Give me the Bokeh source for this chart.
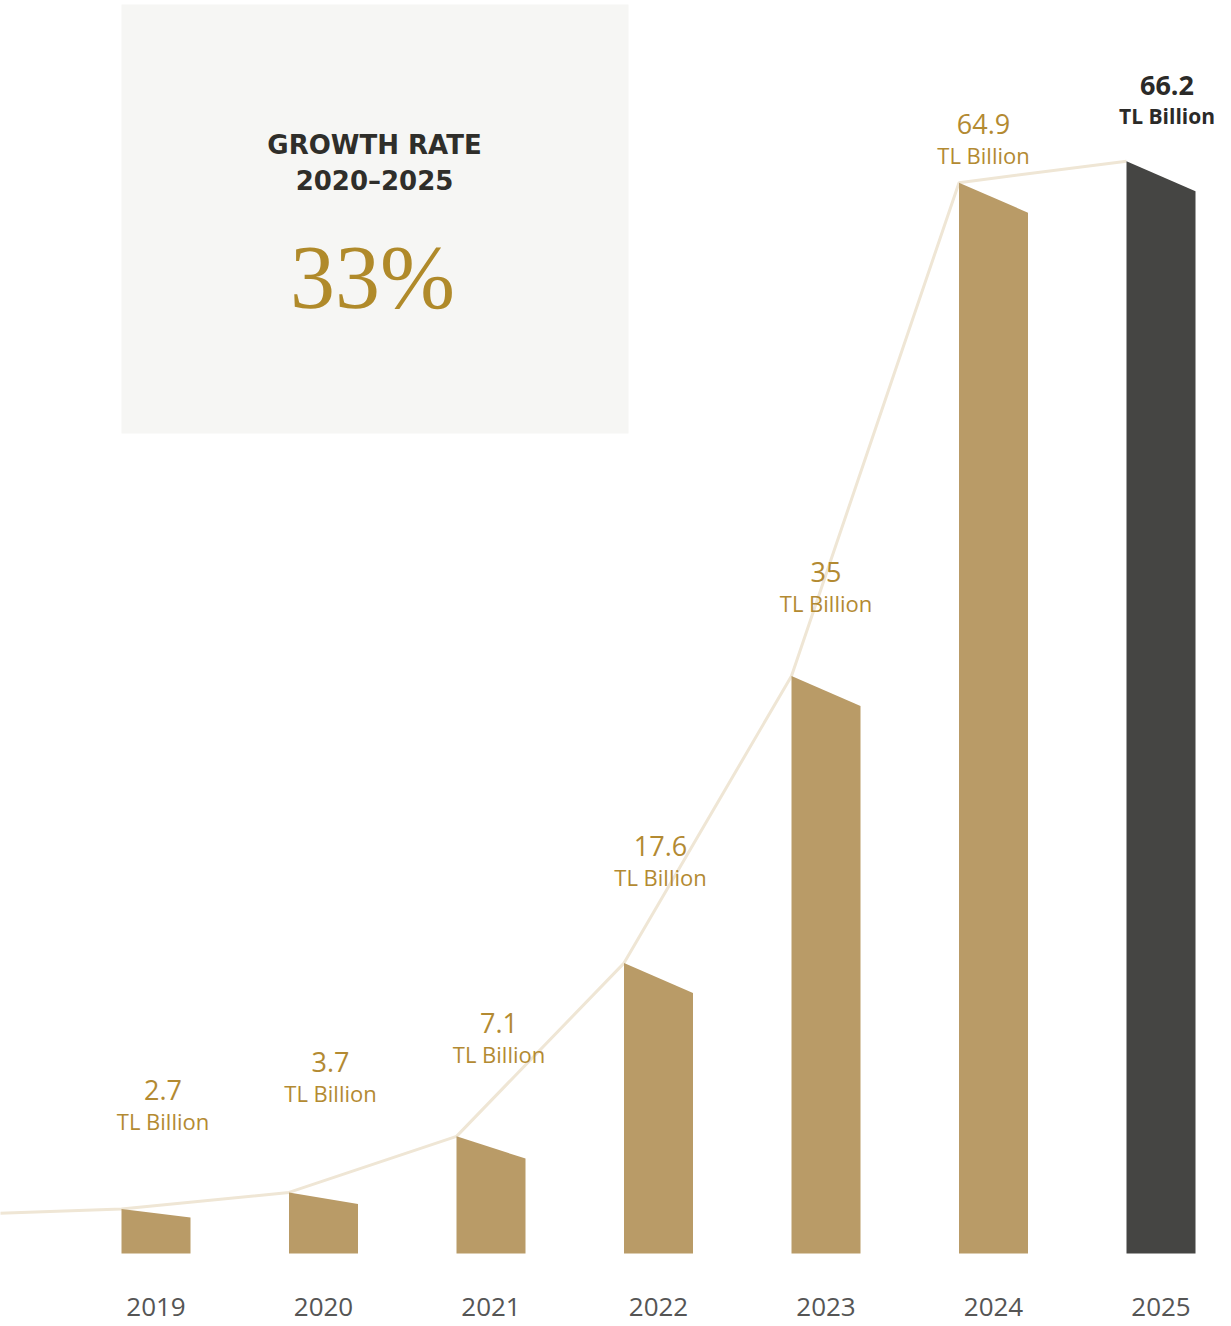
from bokeh.plotting import figure
from bokeh.models import ColumnDataSource, Range1d
from bokeh.core.properties import value
from bokeh.embed import file_html
from bokeh.resources import INLINE

# ---- data ----
years = ["2019", "2020", "2021", "2022", "2023", "2024", "2025"]
values = [2.7, 3.7, 7.1, 17.6, 35, 64.9, 66.2]
value_labels = ["2.7", "3.7", "7.1", "17.6", "35", "64.9", "66.2"]
unit_label = "TL Billion"
lead_in_value = 2.35  # line enters from the left edge at roughly this level
growth_title = ["GROWTH RATE", "2020\u20132025"]
growth_value = "33%"

# ---- layout / style ----
W, H = 1231, 1326
PX_X = 167.5          # px per category step
X0_PX = 155.5         # px of first bar center
PX_Y = 16.5           # px per value unit
BASE_PX = 1253        # baseline, px from top
HW = 34.5 / PX_X      # bar half width (data units)

GOLD_BAR = "#B99B67"
DARK_BAR = "#454543"
GOLD_TXT = "#B38A32"
LINE_COL = "#EFE6D5"
YEAR_COL = "#555555"
DARK_TXT = "#2B2A28"

LABEL_DX = [7, 7, 8, 2, 0, -10, 6]             # px
LABEL_DY = [-119, -130, -113, -117, -104, -59, -76]  # px, relative to bar top


def px2x(px):
    return (px - X0_PX) / PX_X


def py2y(py):
    return (BASE_PX - py) / PX_Y


p = figure(width=W, height=H, output_backend="svg", toolbar_location=None,
           x_range=Range1d(px2x(0), px2x(W)), y_range=Range1d(py2y(H), py2y(0)),
           x_axis_location=None, y_axis_location=None, min_border=0,
           background_fill_color="white", border_fill_color="white")
p.outline_line_color = None
p.xgrid.visible = False
p.ygrid.visible = False

# growth-rate box
p.quad(left=[px2x(121)], right=[px2x(628)], top=[py2y(4)], bottom=[py2y(433)],
       fill_color="#F6F6F4", line_color=None)
p.text(x=[px2x(374)], y=[py2y(144)], text=[growth_title[0]], text_font=value("DejaVu Sans"),
       text_font_style="bold", text_font_size="26px", text_color="#2F2E2A",
       text_align="center", text_baseline="middle")
p.text(x=[px2x(374)], y=[py2y(180)], text=[growth_title[1]], text_font=value("DejaVu Sans"),
       text_font_style="bold", text_font_size="26px", text_color="#2F2E2A",
       text_align="center", text_baseline="middle")
p.text(x=[px2x(372)], y=[py2y(277)], text=[growth_value], text_font=value("Liberation Serif"),
       text_font_size="90px", text_color="#B08A2A",
       text_align="center", text_baseline="middle")

# connecting line through the left-top corners
xs_line = [-1 - HW] + [i - HW for i in range(len(values))]
ys_line = [lead_in_value] + list(values)
p.line(xs_line, ys_line, line_color=LINE_COL, line_width=3)

# slanted-top bars
bx, by, bc = [], [], []
for i, v in enumerate(values):
    h_px = v * PX_Y
    drop = min(0.19 * h_px, 30) / PX_Y
    bx.append([i - HW, i - HW, i + HW, i + HW])
    by.append([0, v, v - drop, 0])
    bc.append(DARK_BAR if i == len(values) - 1 else GOLD_BAR)
p.patches(xs=bx, ys=by, fill_color=bc, line_color=None)

# value labels
n = len(values)
lx = [i + LABEL_DX[i] / PX_X for i in range(n)]
ly_val = [values[i] - LABEL_DY[i] / PX_Y for i in range(n)]
ly_unit = [values[i] - (LABEL_DY[i] + 31) / PX_Y for i in range(n)]

src = ColumnDataSource(dict(x=lx[:-1], yv=ly_val[:-1], yu=ly_unit[:-1],
                            t=value_labels[:-1], u=[unit_label] * (n - 1)))
p.text(x="x", y="yv", text="t", source=src, text_font=value("Open Sans"),
       text_font_size="27px", text_color=GOLD_TXT, text_align="center", text_baseline="middle")
p.text(x="x", y="yu", text="u", source=src, text_font=value("Open Sans"),
       text_font_size="22px", text_color=GOLD_TXT, text_align="center", text_baseline="middle")

p.text(x=[lx[-1]], y=[ly_val[-1]], text=[value_labels[-1]], text_font=value("Open Sans"),
       text_font_style="bold", text_font_size="27px", text_color=DARK_TXT,
       text_align="center", text_baseline="middle")
p.text(x=[lx[-1]], y=[ly_unit[-1]], text=[unit_label], text_font=value("Open Sans"),
       text_font_style="bold", text_font_size="21px", text_color=DARK_TXT,
       text_align="center", text_baseline="middle")

# year labels
p.text(x=list(range(n)), y=[py2y(1306)] * n, text=years, text_font=value("Open Sans"),
       text_font_size="26px", text_color=YEAR_COL, text_align="center", text_baseline="middle")

open("out.html", "w").write(file_html(p, INLINE))
